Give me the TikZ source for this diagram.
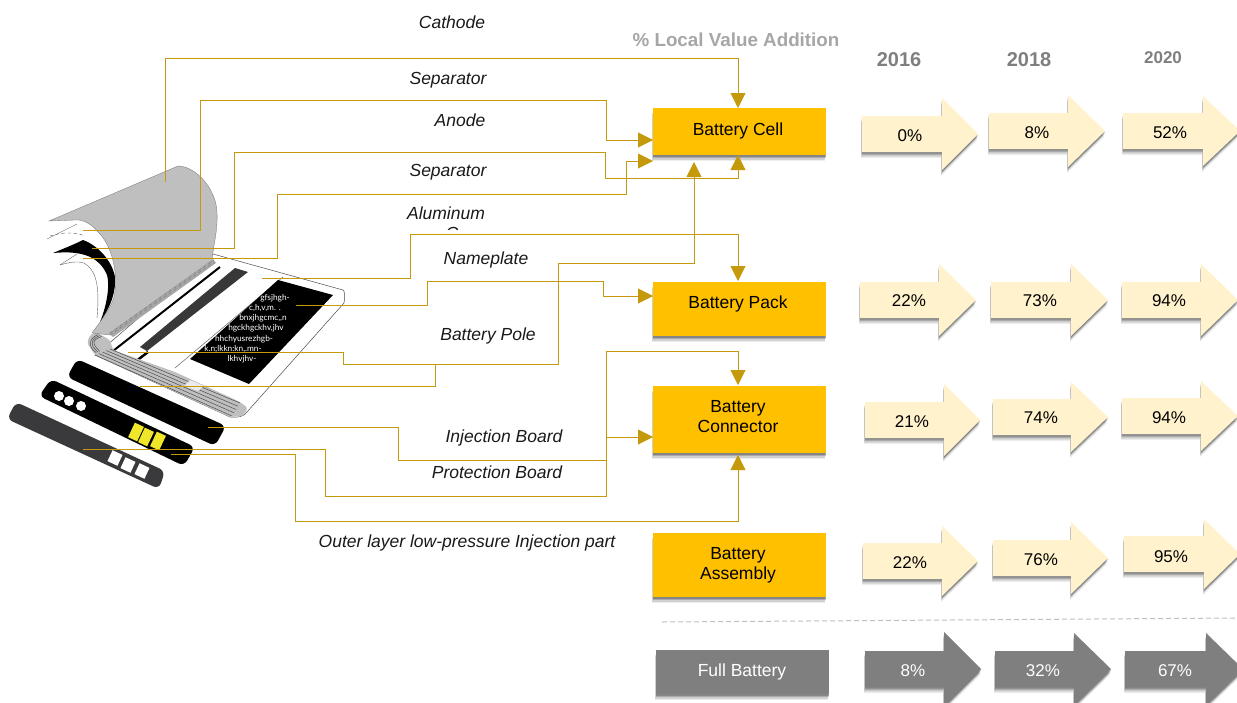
\documentclass[tikz,border=0pt]{standalone}
\usepackage{fontspec}
\setmainfont{Liberation Sans}
\newfontfamily\platefont{Lato}
\usetikzlibrary{arrows.meta,shadows}
\definecolor{gold}{HTML}{C49A0C}
\definecolor{boxgold}{HTML}{FFC000}
\definecolor{cream}{HTML}{FFF2CC}
\definecolor{midgrey}{HTML}{7F7F7F}
\definecolor{darkbar}{HTML}{3A3A3C}
\definecolor{padyellow}{HTML}{F0E62A}
\tikzset{
  softshadow/.style={
    general shadow={fill=black,opacity=.07,shadow xshift=-1pt,shadow yshift=-6pt},
    general shadow={fill=black,opacity=.12,shadow xshift=-1pt,shadow yshift=-4.5pt},
    general shadow={fill=black,opacity=.18,shadow xshift=-.5pt,shadow yshift=-3pt},
    general shadow={fill=black,opacity=.22,shadow xshift=0pt,shadow yshift=-1.5pt}},
  stagebox/.style={softshadow,fill=boxgold,minimum width=173pt,inner sep=0pt},
  stagetext/.style={align=center,inner sep=0pt,font=\fontsize{17.5}{20}\selectfont},
  creamarrow/.style={softshadow,fill=cream},
  greyarrow/.style={softshadow,fill=midgrey},
  pct/.style={font=\fontsize{17}{20}\selectfont,text=black,inner sep=0pt,yshift=-1pt},
  whitepct/.style={font=\fontsize{17}{20}\selectfont,text=white,inner sep=0pt,yshift=-1pt},
  partlabel/.style={font=\fontsize{17.5}{20}\selectfont\itshape,text=black!90,inner sep=0pt},
  header/.style={font=\fontsize{18.8}{20}\selectfont\bfseries,text=midgrey,inner sep=0pt},
  link/.style={draw=gold,line width=.95pt},
  linkarrow/.style={link,-{Triangle[length=15pt,width=15pt,color=gold]}},
  platetext/.style={font=\platefont\fontsize{8.3}{9}\selectfont,text=white,inner sep=0pt},
}
\newcommand{\valarrow}[9]{%
  \path[#2] (#3,#6) -- (#4,#6) -- (#4,#7) -- (#5,{#6+18}) -- (#4,{2*#6+36-#7}) -- (#4,{#6+36}) -- (#3,{#6+36}) -- cycle;
  \node[#1] at (#8) {#9};}
\begin{document}
\begin{tikzpicture}[x=1pt,y=-1pt]
\useasboundingbox (0,0) rectangle (1237,702);
\clip (0,0) rectangle (1237,702);

% ---------- battery body
\draw[black!70,line width=.5pt,fill=white] (213,254) -- (343,290) .. controls (345,291) and (345,298) .. (344,303) -- (247,412) .. controls (245,416) and (238,418) .. (230,417) -- (95,355) -- (113,340) -- cycle;
\draw[black!60,line width=.5pt] (283,277) -- (175,368);
\fill[black] (278,280) -- (333,295) -- (249,384) -- (190,359) -- cycle;
\fill[black!78] (235,268) -- (248,272) -- (147,351) -- (140,347) -- cycle;
\draw[black,line width=2pt] (220,267) -- (113,351);
\draw[black,line width=2.5pt] (148,352) -- (135,362);

% roll
\fill[black!25,rounded corners=3pt] (87,343) -- (90,335) -- (96,332) -- (110,340) -- (113,350) -- (175,372) -- (240,402) -- (248,408) -- (243,416) -- (230,417) -- (95,355) -- cycle;
\foreach \t in {0,.25,.5,.75,1}{\draw[black!70,line width=.5pt] ({95+15*\t},{355-6*\t}) -- ({232+8*\t},{416-13*\t});}
\foreach \t in {.2,.5,.8}{\draw[black!70,line width=.5pt] ({95+6*\t},{353-2*\t}) .. controls ({86+6*\t},{348-6*\t}) and ({88+6*\t},{337+3*\t}) .. ({97+6*\t},{334+3*\t});}
\fill[black!8] (190,380) -- (204,386) -- (198,391) -- (184,386) -- cycle;

% curled sheets
\fill[white] (47,239) -- (77,223) -- (100,235) -- (117,267) -- (112,300) -- (103,320) -- (96,316) -- (98,277) -- (83,263) -- (60,265) -- (77,254) -- (53,253) -- (83,238) -- cycle;
\draw[black!60,line width=.4pt] (47,239) -- (77,224);
\draw[black!60,line width=.4pt] (60,265) -- (77,254);
\draw[black!60,line width=.4pt] (60,265) .. controls (70,262) and (78,261) .. (84,263) .. controls (96,270) and (100,285) .. (97,318);
\draw[black!70,line width=.4pt,dashed] (50,236) .. controls (62,232) and (75,232) .. (85,236);
\fill[black] (53,253) .. controls (65,248) and (75,244) .. (83,240) .. controls (97,245) and (112,260) .. (115,277) .. controls (116,290) and (112,305) .. (100,322) .. controls (107,305) and (110,285) .. (107,275) .. controls (103,265) and (95,258) .. (85,255) .. controls (75,252) and (65,252) .. (53,253) -- cycle;
\fill[black!25,draw=black!55,line width=.3pt] (49,221) -- (178,166) .. controls (195,166) and (216,188) .. (217,212) .. controls (218,232) and (213,245) .. (212,262) -- (110,335) -- (92,333) .. controls (100,322) and (110,310) .. (114,297) .. controls (119,275) and (112,245) .. (98,232) .. controls (92,224) and (82,219) .. (75,220) -- cycle;
\fill[black!35] (213,259) -- (216,263) -- (113,337) -- (109,333) -- cycle;
\foreach \o in {0,2}{\draw[black!55,line width=.35pt,dashed] (110,{333+\o}) -- (214,{260+\o});}

% name plate text
\node[platetext] (p1) at (275,298) {gfsjhgh-};
\node[platetext] (p2) at (265,308) {c,h,v,m. .};
\node[platetext] (p3) at (263,318) {bnxjhgcmc,,n};
\node[platetext] (p4) at (256,328) {hgckhgckhv,jhv};
\node[platetext] (p5) at (244,339) {hhchyusrezhgb-};
\node[platetext] (p6) at (233,349) {k.n;lkkn:kn,.mn-};
\node[platetext] (p7) at (242,359) {lkhvjhv-};

% bars
\fill[black,rounded corners=6pt] (77,359) -- (67,377) -- (215,446) -- (226,426) -- cycle;
\fill[black,rounded corners=6pt] (51,379) -- (39,396) -- (184,466) -- (195,447) -- cycle;
\fill[darkbar,rounded corners=6pt] (16,402) -- (7,419) -- (159,489) -- (165,471) -- cycle;
\fill[white] (59,396) circle (5) (69,401) circle (5) (81,406) circle (5);
\foreach \c in {(136,432),(146,437),(158,441)}{\fill[padyellow,shift={\c},rotate=-25] (-5,-8) rectangle (5,8);}
\foreach \c in {(115,458),(128,465),(142,471)}{\fill[white,shift={\c},rotate=-25] (-5.5,-6) rectangle (5.5,6);}

% ---------- stage boxes
\node[stagebox,minimum height=47pt] (cell) at (739.5,131.5) {};
\node[stagebox,minimum height=54pt] (pack) at (739.5,309) {};
\node[stagebox,minimum height=67pt] (conn) at (739.5,419.5) {};
\node[stagebox,minimum height=64pt] (asm) at (739.5,565) {};
\node[softshadow,fill=midgrey,minimum width=173pt,minimum height=44pt,inner sep=0pt] (full) at (742.5,672) {};
\node[stagetext] (cellt) at (738,131) {Battery Cell};
\node[stagetext] (packt) at (738,303.5) {Battery Pack};
\node[stagetext] (connt) at (738,417) {Battery\\Connector};
\node[stagetext] (asmt) at (738,565) {Battery\\Assembly};
\node[stagetext,text=white] (fullt) at (742,672) {Full Battery};

% ---------- connector ends
\coordinate (s1) at (165,182);  \coordinate (t1) at (738,108);
\coordinate (s2) at (83,230);   \coordinate (t2) at (653,140);
\coordinate (s3) at (92,248);   \coordinate (t3) at (738,155);
\coordinate (s4) at (83,258);   \coordinate (t4) at (653,161);
\coordinate (s5) at (262,278);  \coordinate (t5) at (738,281);
\coordinate (s6) at (296,305);  \coordinate (t6) at (653,296);
\coordinate (s7) at (128,352);  \coordinate (t7) at (694,162);
\coordinate (s8) at (140,386);
\coordinate (s9) at (208,427);  \coordinate (t9) at (738,385);
\coordinate (s10) at (83,449);  \coordinate (t10) at (653,437);
\coordinate (s11) at (171,454); \coordinate (t11) at (738,455);

\path[linkarrow] (s1) -- (165,58) -- (738,58) -- (t1);
\path[linkarrow] (s2) -- (200,230) -- (200,100) -- (606,100) -- (606,140) -- (t2);
\path[linkarrow] (s3) -- (234,248) -- (234,152) -- (605,152) -- (605,178) -- (738,178) -- (t3);
\path[linkarrow] (s4) -- (277,258) -- (277,194) -- (626,194) -- (626,161) -- (t4);
\path[linkarrow] (s5) -- (410,278) -- (410,234) -- (738,234) -- (t5);
\path[linkarrow] (s6) -- (427,305) -- (427,281) -- (603,281) -- (603,296) -- (t6);
\path[linkarrow] (s7) -- (343,352) -- (343,364) -- (558,364) -- (558,263) -- (694,263) -- (t7);
\path[link] (s8) -- (435,386) -- (435,364);
\path[linkarrow] (s9) -- (398,427) -- (398,460) -- (606,460) -- (606,351) -- (738,351) -- (t9);
\path[linkarrow] (s10) -- (325,449) -- (325,496) -- (606,496) -- (606,437) -- (t10);
\path[linkarrow] (s11) -- (295,454) -- (295,521) -- (738,521) -- (t11);

% ---------- value arrows
\valarrow{pct}{creamarrow}{862}{942}{978}{116}{98}{910,135}{0\%}
\valarrow{pct}{creamarrow}{989}{1068}{1105}{113}{95}{1037,132}{8\%}
\valarrow{pct}{creamarrow}{1123}{1203}{1240}{113}{96}{1170,132}{52\%}
\valarrow{pct}{creamarrow}{860}{939}{976}{282}{264}{909,300}{22\%}
\valarrow{pct}{creamarrow}{991}{1071}{1108}{282}{264}{1040,300}{73\%}
\valarrow{pct}{creamarrow}{1122}{1201}{1238}{282}{264}{1169,300}{94\%}
\valarrow{pct}{creamarrow}{865}{944}{980}{402}{384}{912,421}{21\%}
\valarrow{pct}{creamarrow}{993}{1071}{1108}{399}{382}{1041,417}{74\%}
\valarrow{pct}{creamarrow}{1122}{1201}{1238}{398}{381}{1169,417}{94\%}
\valarrow{pct}{creamarrow}{863}{942}{978}{543}{526}{910,562}{22\%}
\valarrow{pct}{creamarrow}{993}{1071}{1108}{540}{522}{1041,559}{76\%}
\valarrow{pct}{creamarrow}{1124}{1204}{1240}{536}{519}{1171,556}{95\%}
\valarrow{whitepct}{greyarrow}{865}{944}{981}{651}{632}{913,670}{8\%}
\valarrow{whitepct}{greyarrow}{995}{1074}{1111}{651}{633}{1043,670}{32\%}
\valarrow{whitepct}{greyarrow}{1125}{1206}{1243}{651}{633}{1175,670}{67\%}

% dashed rule
\coordinate (r1) at (662,622); \coordinate (r2) at (1237,618);
\draw[black!25,dash pattern=on 5pt off 3pt,line width=1pt] (r1) -- (r2);

% ---------- labels
\node[partlabel] (l1) at (452,22.5) {Cathode};
\node[partlabel] (l2) at (448,80) {Separator};
\node[partlabel] (l3) at (460,120.5) {Anode};
\node[partlabel] (l4) at (448,172) {Separator};
\node[partlabel] (l5) at (446,213.5) {Aluminum};
\begin{scope}
\clip (430,222) rectangle (470,229.5);
\node[partlabel] (l5b) at (452,233) {C};
\end{scope}
\node[partlabel] (l6) at (486,260) {Nameplate};
\node[partlabel] (l7) at (488,336) {Battery Pole};
\node[partlabel] (l8) at (504,438) {Injection Board};
\node[partlabel] (l9) at (497,472.5) {Protection Board};
\node[partlabel] (l10) at (467,543) {Outer layer low-pressure Injection part};

\node[header,text=black!35] (h0) at (736,39.5) {\% Local Value Addition};
\node[header] (h1) at (899,59.5) {\fontsize{20}{22}\selectfont 2016};
\node[header] (h2) at (1029,59.5) {\fontsize{20}{22}\selectfont 2018};
\node[header] (h3) at (1163,57.5) {\fontsize{17}{20}\selectfont 2020};
\end{tikzpicture}
\end{document}
